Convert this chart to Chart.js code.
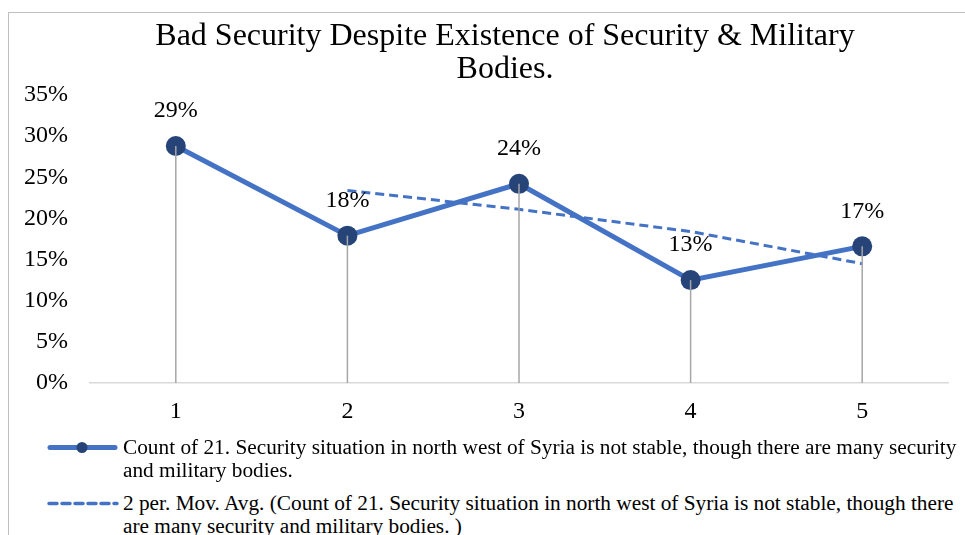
<!DOCTYPE html>
<html>
<head>
<meta charset="utf-8">
<script src="https://cdn.jsdelivr.net/npm/chart.js@4.4.0/dist/chart.umd.min.js"></script>
<style>
  body { margin: 0; background: #fff; width: 965px; height: 535px; overflow: hidden; position: relative; }
  #frame { position: absolute; left: 8px; top: 12px; width: 994px; height: 600px; border: 1px solid #bfbfbf; box-sizing: border-box; }
  #chart-wrap { position: absolute; left: 0; top: 0; width: 992px; height: 429px; }
  .leg { position: absolute; left: 0; font-family: 'Liberation Serif', 'Times New Roman', serif; font-size: 21.3px; line-height: 23px; color: #000; white-space: nowrap; }
  .leg svg { position: absolute; left: 38px; top: 0; }
  .leg span { position: absolute; left: 114px; top: 0; }
</style>
</head>
<body>
<div id="frame">
  <div id="chart-wrap"><canvas id="security-chart"></canvas></div>
  <div class="leg" style="top:423px">
    <svg width="80" height="23"><line x1="3" y1="11.5" x2="68" y2="11.5" stroke="#4472C4" stroke-width="5" stroke-linecap="round"/><circle cx="35" cy="11.5" r="5.5" fill="#264478"/></svg>
    <span>Count of 21. Security situation in north west of Syria is not stable, though there are many security<br>and military bodies.</span>
  </div>
  <div class="leg" style="top:479px">
    <svg width="80" height="23"><line x1="2" y1="11.5" x2="70" y2="11.5" stroke="#4472C4" stroke-width="3.5" stroke-dasharray="8 5" stroke-linecap="round"/></svg>
    <span>2 per. Mov. Avg. (Count of 21. Security situation in north west of Syria is not stable, though there<br>are many security and military bodies. )</span>
  </div>
</div>
<script>
var categories = ['1', '2', '3', '4', '5'];
var countValues = [28.8, 17.9, 24.2, 12.5, 16.6];
var movAvgValues = [null, 23.4, 21.1, 18.4, 14.5];
var yTicks = [0, 5, 10, 15, 20, 25, 30, 35];

var serif = 'Liberation Serif, serif';

// drop lines from each point to the axis, then value labels above the points
var dropLinesAndLabels = {
  id: 'dropLinesAndLabels',
  afterDatasetsDraw: function(chart) {
    var ctx = chart.ctx;
    var meta = chart.getDatasetMeta(0);
    var bottom = chart.chartArea.bottom;
    ctx.save();
    ctx.strokeStyle = '#a6a6a6';
    ctx.lineWidth = 1.5;
    meta.data.forEach(function(pt) {
      ctx.beginPath();
      ctx.moveTo(pt.x, pt.y);
      ctx.lineTo(pt.x, bottom);
      ctx.stroke();
    });
    ctx.fillStyle = '#000';
    ctx.font = '24px ' + serif;
    ctx.textAlign = 'center';
    ctx.textBaseline = 'middle';
    meta.data.forEach(function(pt, i) {
      ctx.fillText(Math.round(countValues[i]) + '%', pt.x, pt.y - 35);
    });
    ctx.restore();
  }
};

var config = {
  type: 'line',
  data: {
    labels: categories,
    datasets: [{
      label: 'Count of 21. Security situation in north west of Syria is not stable, though there are many security and military bodies.',
      data: countValues,
      borderColor: '#4472C4',
      borderWidth: 5,
      pointRadius: 10,
      pointHoverRadius: 10,
      pointBackgroundColor: '#264478',
      pointBorderColor: '#264478',
      pointBorderWidth: 0,
      tension: 0,
      order: 2
    }, {
      label: '2 per. Mov. Avg.',
      data: movAvgValues,
      borderColor: '#4472C4',
      borderWidth: 3,
      borderDash: [9, 5],
      pointRadius: 0,
      tension: 0,
      order: 1
    }]
  },
  options: {
    responsive: true,
    maintainAspectRatio: false,
    animation: false,
    layout: { padding: { top: 0, right: 0, bottom: 1, left: 0 } },
    plugins: {
      legend: { display: false },
      tooltip: { enabled: false },
      title: {
        display: true,
        text: ['Bad Security Despite Existence of Security & Military', 'Bodies.'],
        color: '#000',
        font: { family: serif, size: 32, weight: 'normal', lineHeight: 1.03 },
        padding: { top: 7.5, bottom: 8.5 }
      }
    },
    scales: {
      x: {
        offset: true,
        grid: { display: false, drawTicks: false, offset: true },
        border: { display: true, color: '#d9d9d9', width: 1.5 },
        ticks: { color: '#000', font: { family: serif, size: 24 }, padding: 14.6 }
      },
      y: {
        min: 0,
        max: 35,
        afterFit: function(scale) { scale.width = 81; },
        afterBuildTicks: function(scale) { scale.ticks = yTicks.map(function(v) { return { value: v }; }); },
        grid: { display: false, drawTicks: false },
        border: { display: false },
        ticks: {
          color: '#000',
          font: { family: serif, size: 24 },
          padding: 22,
          callback: function(v) { return v + '%'; }
        }
      },
      // empty right-hand spacer so the title stays centred on the whole frame
      yRight: {
        position: 'right',
        min: 0,
        max: 35,
        afterFit: function(scale) { scale.width = 53; },
        grid: { display: false, drawTicks: false },
        border: { display: false },
        ticks: { display: false }
      }
    }
  },
  plugins: [dropLinesAndLabels]
};

var ctx = document.getElementById('security-chart').getContext('2d');
var chart = new Chart(ctx, config);
</script>
</body>
</html>
